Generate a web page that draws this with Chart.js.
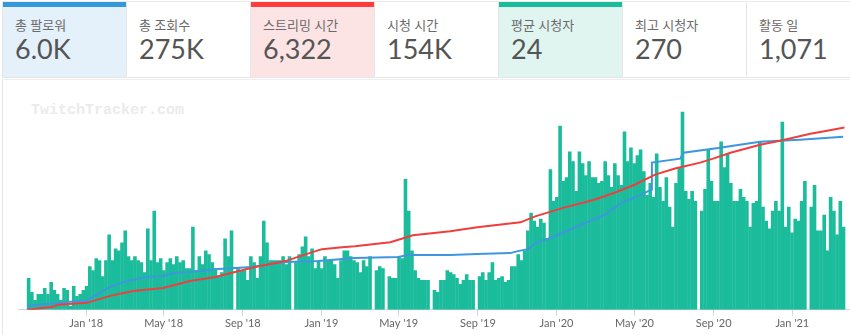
<!DOCTYPE html>
<html lang="ko">
<head>
<meta charset="utf-8">
<title>TwitchTracker</title>
<script src="https://cdn.jsdelivr.net/npm/chart.js@4/dist/chart.umd.min.js"></script>
<style>
  html, body { margin: 0; padding: 0; background: #fff; width: 850px; height: 335px; overflow: hidden; }
  body { position: relative; font-family: Lato, "Noto Sans CJK KR", sans-serif; }
  .stats { position: absolute; left: 2px; top: 1px; height: 75px; width: 900px;
           border-top: 1px solid #ececec; border-bottom: 1px solid #e6e6e6; border-left: 1px solid #e6e6e6; }
  .box { position: absolute; top: 0; width: 123px; height: 75px; border-right: 1px solid #e6e6e6; }
  .box .bar { position: absolute; left: 0; right: 0; top: 0; height: 5px; }
  .box .lbl { position: absolute; left: 12px; top: 14px; font-size: 13px; line-height: 18px; color: #6a6a6a; white-space: nowrap; }
  .box .val { position: absolute; left: 12px; top: 31px; font-size: 27px; line-height: 32px; color: #555; white-space: nowrap; }
  .card { position: absolute; left: 2px; top: 79px; width: 900px; height: 300px;
          border-top: 1px solid #eeeeee; border-left: 1px solid #e6e6e6; }
  .mark { position: absolute; left: 31px; top: 103px; font: bold 15px/16px "Liberation Mono", monospace; color: #ebebeb; }
  #wrap { position: absolute; left: 0; top: 80px; width: 850px; height: 255px; }
</style>
</head>
<body>
<div class="stats" id="stats"></div>
<div class="card"></div>
<div class="mark">TwitchTracker.com</div>
<div id="wrap"><canvas id="trend" width="850" height="255"></canvas></div>
<script>
// summary cards
const statLabels = ["총 팔로워", "총 조회수", "스트리밍 시간", "시청 시간", "평균 시청자", "최고 시청자", "활동 일"];
const statValues = ["6.0K", "275K", "6,322", "154K", "24", "270", "1,071"];
const statAccent = ["#3498db", null, "#ff3b3b", null, "#1abc9c", null, null];
const statFill = ["#e4f1fb", "#fff", "#fde4e4", "#fff", "#e0f5f0", "#fff", "#fff"];

const stats = document.getElementById("stats");
statLabels.forEach((label, i) => {
    const box = document.createElement("div");
    box.className = "box";
    box.style.left = (i * 124) + "px";
    box.style.background = statFill[i];
    let html = "";
    if (statAccent[i]) html += `<div class="bar" style="background:${statAccent[i]}"></div>`;
    html += `<div class="lbl">${label}</div><div class="val">${statValues[i]}</div>`;
    box.innerHTML = html;
    stats.appendChild(box);
});

// x values are days counted from 1 Oct 2017; each bar covers 5 days
const BUCKET_DAYS = 5;
const viewers = [
    16, 9, 5, 8, 8, 11, 8, 14, 10, 8, 5, 11, 10, 2, 12, 7, 8, 10, 12, 22,
    20, 26, 25, 17, 25, 38, 25, 31, 30, 34, 40, 27, 25, 27, 25, 24, 19, 41, 25, 50,
    24, 26, 20, 24, 26, 23, 27, 24, 25, 21, 21, 42, 20, 27, 23, 30, 28, 24, 21, 17,
    19, 36, 27, 40, 0, 21, 20, 20, 15, 27, 24, 16, 27, 45, 34, 25, 25, 25, 25, 27,
    23, 27, 0, 24, 28, 32, 37, 27, 31, 21, 25, 21, 27, 25, 25, 23, 16, 25, 30, 30,
    27, 25, 24, 19, 25, 22, 27, 0, 20, 22, 21, 0, 17, 16, 16, 27, 26, 66, 50, 30,
    20, 16, 15, 15, 15, 0, 10, 9, 15, 15, 20, 19, 18, 16, 13, 15, 18, 15, 15, 0,
    17, 19, 15, 19, 24, 15, 16, 17, 14, 15, 22, 22, 28, 25, 30, 40, 49, 45, 42, 46,
    44, 36, 71, 55, 57, 93, 65, 67, 80, 75, 60, 80, 74, 68, 75, 67, 67, 64, 65, 75,
    68, 62, 74, 68, 63, 90, 75, 82, 74, 78, 81, 70, 58, 64, 57, 79, 62, 55, 67, 52,
    42, 64, 72, 100, 60, 56, 60, 55, 0, 50, 61, 81, 65, 55, 55, 85, 72, 79, 64, 55,
    55, 61, 57, 55, 42, 54, 55, 85, 52, 45, 41, 50, 55, 50, 95, 42, 52, 39, 46, 45,
    55, 65, 0, 52, 63, 40, 40, 48, 30, 57, 50, 38, 55, 42
];

// cumulative streaming hours
const hoursDays = [0, 40, 48, 93, 129, 165, 211, 253, 292, 323, 354, 401, 443, 458, 489, 509,
    564, 584, 599, 657, 699, 766, 789, 835, 882, 913, 944, 975, 1006, 1045, 1065, 1092,
    1138, 1169, 1216, 1242, 1269];
const hours = [0, 103, 172, 241, 483, 655, 758, 1000, 1138, 1310, 1482, 1689, 2000, 2103, 2172, 2206,
    2344, 2482, 2585, 2723, 2861, 3033, 3240, 3550, 3826, 4067, 4343, 4688, 4895, 5102, 5239, 5446,
    5722, 5860, 6101, 6205, 6322];

// follower count
const followerDays = [0, 20, 67, 93, 102, 129, 155, 186, 211, 227, 253, 297, 349, 401, 452, 509,
    576, 592, 657, 699, 750, 762, 778, 789, 820, 851, 898, 924, 955, 969, 970, 1014,
    1019, 1076, 1096, 1138, 1200, 1267];
const followers = [138, 172, 276, 310, 448, 793, 1000, 1138, 1172, 1275, 1310, 1413, 1482, 1655, 1689, 1792,
    1827, 1896, 1896, 1930, 1965, 2034, 2103, 2310, 2551, 2861, 3309, 3723, 3999, 4171, 5102, 5239,
    5446, 5619, 5688, 5825, 5894, 6000];

const tickDays = [92, 212, 335, 457, 577, 700, 822, 943, 1066, 1188];
const tickLabels = ["Jan '18", "May '18", "Sep '18", "Jan '19", "May '19", "Sep '19", "Jan '20", "May '20", "Sep '20", "Jan '21"];

const toPoints = (xs, ys) => ys.map((y, i) => ({ x: xs[i], y: y }));

const ctx = document.getElementById("trend").getContext("2d");
new Chart(ctx, {
    type: "bar",
    data: {
        datasets: [
            {
                type: "line",
                label: "Streaming hours",
                data: toPoints(hoursDays, hours),
                yAxisID: "yLine",
                borderColor: "rgb(240,62,62)",
                borderWidth: 2,
                pointRadius: 0,
                tension: 0,
                order: 1
            },
            {
                type: "line",
                label: "Followers",
                data: toPoints(followerDays, followers),
                yAxisID: "yLine",
                borderColor: "rgb(62,150,222)",
                borderWidth: 2,
                pointRadius: 0,
                tension: 0,
                order: 2
            },
            {
                label: "Viewers",
                data: viewers.map((v, i) => ({ x: i * BUCKET_DAYS + BUCKET_DAYS / 2, y: v })),
                yAxisID: "y",
                backgroundColor: "#1bbc9b",
                borderWidth: 0,
                categoryPercentage: 1,
                barPercentage: 1.12,
                order: 3
            }
        ]
    },
    options: {
        responsive: false,
        animation: false,
        layout: { padding: { left: 18, right: 1, top: 12, bottom: 4 } },
        plugins: { legend: { display: false }, tooltip: { enabled: false } },
        scales: {
            x: {
                type: "linear",
                offset: false,
                min: -14,
                max: 1276,
                afterBuildTicks: (axis) => { axis.ticks = tickDays.map(v => ({ value: v })); },
                ticks: {
                    autoSkip: false,
                    maxRotation: 0,
                    padding: 1,
                    color: "#666",
                    font: { family: "Lato", size: 11 },
                    callback: (v) => tickLabels[tickDays.indexOf(v)]
                },
                grid: { drawOnChartArea: false, offset: false, tickLength: 6, color: "#ccd6eb" },
                border: { color: "#ccd6eb" }
            },
            y: { display: false, min: 0, max: 110 },
            yLine: { display: false, min: 0, max: 7550 }
        }
    }
});
</script>
</body>
</html>
